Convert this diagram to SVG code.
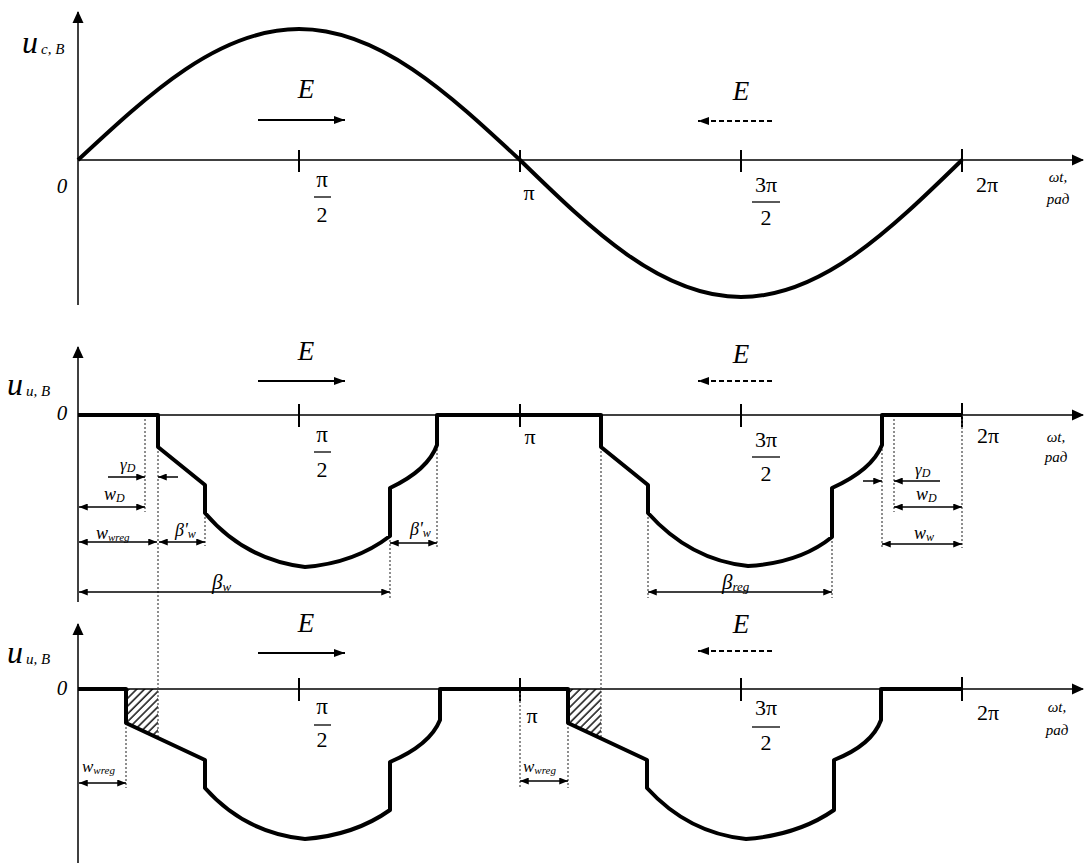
<svg xmlns="http://www.w3.org/2000/svg" width="1084" height="863" viewBox="0 0 1084 863">
<style>
.ax{stroke:#000;stroke-width:1.5;fill:none}
.tk{stroke:#000;stroke-width:2}
.wv{stroke:#000;stroke-width:4;fill:none;stroke-linejoin:round}
.dt{stroke:#444;stroke-width:1.2;stroke-dasharray:2 2;fill:none}
.dm{stroke:#000;stroke-width:1.5;fill:none}
.ea{stroke:#000;stroke-width:1.8;fill:none}
.ed{stroke:#000;stroke-width:1.8;fill:none;stroke-dasharray:5 3}
.t{font-family:"Liberation Serif","DejaVu Serif",serif;fill:#000}
.i{font-style:italic}
.fb{stroke:#000;stroke-width:1.3}
</style>
<defs>
<marker id="axh" viewBox="0 0 12 12" refX="11" refY="6" markerWidth="12" markerHeight="12" markerUnits="userSpaceOnUse" orient="auto"><path d="M0,0.5 L12,6 L0,11.5 z" fill="#000"/></marker>
<marker id="dh" viewBox="0 0 10 8" refX="10" refY="4" markerWidth="9" markerHeight="7" markerUnits="userSpaceOnUse" orient="auto-start-reverse"><path d="M0,0 L10,4 L0,8 z" fill="#000"/></marker>
<marker id="eh" viewBox="0 0 11 8" refX="11" refY="4" markerWidth="11" markerHeight="8" markerUnits="userSpaceOnUse" orient="auto"><path d="M0,0 L11,4 L0,8 z" fill="#000"/></marker>
<pattern id="hatch" patternUnits="userSpaceOnUse" width="5.5" height="5.5" patternTransform="rotate(45)"><line x1="1" y1="0" x2="1" y2="5.5" stroke="#000" stroke-width="1.4"/></pattern>
</defs>

<g id="axes">
<line class="ax" x1="78" y1="305" x2="78" y2="12" marker-end="url(#axh)"/>
<line class="ax" x1="78" y1="160" x2="1083" y2="160" marker-end="url(#axh)"/>
<line class="ax" x1="78" y1="602" x2="78" y2="347" marker-end="url(#axh)"/>
<line class="ax" x1="78" y1="415" x2="1083" y2="415" marker-end="url(#axh)"/>
<line class="ax" x1="78" y1="863" x2="78" y2="624" marker-end="url(#axh)"/>
<line class="ax" x1="78" y1="689" x2="1083" y2="689" marker-end="url(#axh)"/>
</g>

<g id="ticks">
<path class="tk" d="M299,150 V172 M520,150 V172 M741,150 V172 M962,149 V172"/>
<path class="tk" d="M299,404 V427 M520,404 V427 M741,404 V427 M962,403 V427"/>
<path class="tk" d="M299,678 V701 M520,678 V701 M741,678 V701 M962,677 V701"/>
</g>

<g id="hatching">
<polygon points="126,689 158,689 158,738 126,723" fill="url(#hatch)"/>
<polygon points="568,689 601,689 601,738 568,723" fill="url(#hatch)"/>
</g>

<g id="guides">
<path class="dt" d="M145,415 V512 M158,447 V738 M205,513 V546 M390,536 V598 M437,445 V548"/>
<path class="dt" d="M601,447 V738 M648,513 V598 M832,537 V598 M882,445 V548 M894,415 V512 M962,415 V548"/>
<path class="dt" d="M126,723 V788 M520,689 V788 M568,723 V788"/>
</g>

<g id="curves">
<path class="wv" id="sine" d="M78,160 C150.07,92.9 219.02,29 299,29 C378.98,29 447.93,92.9 520,160 C592.07,230.2 661.02,297 741,297 C820.98,297 889.93,230.2 962,160"/>
<path class="wv" id="mid-wave" d="M78,415 H158 V447 L205,485 V513 Q245,560 305,567 Q355,563 390,536 V488 Q428,470 437,445 V415 H601 V447 L648,485 V513 Q690,560 748,566 Q800,563 832,537 V488 Q872,470 882,445 V415 H962"/>
<path class="wv" id="bot-wave" d="M78,689 H126 V723 L205,760 V788 Q245,833 305,839 Q355,835 390,810 V762 Q430,745 440,720 V689 H568 V723 L647,760 V788 Q688,833 746,839 Q798,835 834,810 V760 Q872,745 881,720 V689 H962"/>
</g>

<g id="connectors">
<line class="ea" x1="258" y1="120" x2="345" y2="120" marker-end="url(#eh)"/>
<line class="ed" x1="772" y1="121" x2="698" y2="121" marker-end="url(#eh)"/>
<line class="ea" x1="258" y1="381" x2="345" y2="381" marker-end="url(#eh)"/>
<line class="ed" x1="772" y1="381" x2="698" y2="381" marker-end="url(#eh)"/>
<line class="ea" x1="258" y1="653" x2="345" y2="653" marker-end="url(#eh)"/>
<line class="ed" x1="772" y1="651" x2="698" y2="651" marker-end="url(#eh)"/>

<line class="dm" x1="108" y1="477" x2="145" y2="477" marker-end="url(#dh)"/>
<line class="dm" x1="178" y1="477" x2="158" y2="477" marker-end="url(#dh)"/>
<line class="dm" x1="79" y1="507" x2="145" y2="507" marker-start="url(#dh)" marker-end="url(#dh)"/>
<line class="dm" x1="79" y1="542" x2="157" y2="542" marker-start="url(#dh)" marker-end="url(#dh)"/>
<line class="dm" x1="159" y1="542" x2="205" y2="542" marker-start="url(#dh)" marker-end="url(#dh)"/>
<line class="dm" x1="390" y1="543" x2="437" y2="543" marker-start="url(#dh)" marker-end="url(#dh)"/>
<line class="dm" x1="79" y1="592" x2="390" y2="592" marker-start="url(#dh)" marker-end="url(#dh)"/>
<line class="dm" x1="648" y1="592" x2="832" y2="592" marker-start="url(#dh)" marker-end="url(#dh)"/>
<line class="dm" x1="863" y1="481" x2="882" y2="481" marker-end="url(#dh)"/>
<line class="dm" x1="940" y1="481" x2="894" y2="481" marker-end="url(#dh)"/>
<line class="dm" x1="894" y1="507" x2="962" y2="507" marker-start="url(#dh)" marker-end="url(#dh)"/>
<line class="dm" x1="882" y1="544" x2="962" y2="544" marker-start="url(#dh)" marker-end="url(#dh)"/>
<line class="dm" x1="79" y1="783" x2="126" y2="783" marker-start="url(#dh)" marker-end="url(#dh)"/>
<line class="dm" x1="520" y1="781" x2="568" y2="781" marker-start="url(#dh)" marker-end="url(#dh)"/>
</g>

<g id="labels-top" class="t">
<text x="22" y="53" class="i" font-size="32">u<tspan font-size="15" dx="3" dy="1">c, B</tspan></text>
<text x="62" y="193" class="i" font-size="21" text-anchor="middle">0</text>
<text x="306" y="98" class="i" font-size="27" text-anchor="middle">E</text>
<text x="741" y="100" class="i" font-size="27" text-anchor="middle">E</text>
<text x="322" y="187" font-size="23" text-anchor="middle">π</text>
<line class="fb" x1="314" y1="197" x2="331" y2="197"/>
<text x="322" y="222" font-size="22" text-anchor="middle">2</text>
<text x="529" y="200" font-size="22" text-anchor="middle">π</text>
<text x="766" y="192" font-size="22" text-anchor="middle">3π</text>
<line class="fb" x1="752" y1="202" x2="780" y2="202"/>
<text x="766" y="225" font-size="22" text-anchor="middle">2</text>
<text x="987" y="192" font-size="22" text-anchor="middle">2π</text>
<text x="1058" y="182" class="i" font-size="15" text-anchor="middle">ωt,</text>
<text x="1058" y="204" class="i" font-size="15" text-anchor="middle">рад</text>
</g>

<g id="labels-mid" class="t">
<text x="7" y="395" class="i" font-size="32">u<tspan font-size="15" dx="3" dy="1">u, B</tspan></text>
<text x="62" y="420" class="i" font-size="21" text-anchor="middle">0</text>
<text x="306" y="360" class="i" font-size="27" text-anchor="middle">E</text>
<text x="741" y="363" class="i" font-size="27" text-anchor="middle">E</text>
<text x="322" y="442" font-size="23" text-anchor="middle">π</text>
<line class="fb" x1="314" y1="452" x2="331" y2="452"/>
<text x="322" y="477" font-size="22" text-anchor="middle">2</text>
<text x="530" y="444" font-size="22" text-anchor="middle">π</text>
<text x="766" y="447" font-size="22" text-anchor="middle">3π</text>
<line class="fb" x1="752" y1="457" x2="780" y2="457"/>
<text x="766" y="481" font-size="22" text-anchor="middle">2</text>
<text x="988" y="443" font-size="22" text-anchor="middle">2π</text>
<text x="1056" y="442" class="i" font-size="15" text-anchor="middle">ωt,</text>
<text x="1056" y="462" class="i" font-size="15" text-anchor="middle">рад</text>

<text x="120" y="470" class="i" font-size="17">γ<tspan font-size="12" dy="2">D</tspan></text>
<text x="104" y="500" class="i" font-size="18">w<tspan font-size="12" dy="2">D</tspan></text>
<text x="96" y="539" class="i" font-size="18">w<tspan font-size="11" dy="2">wreg</tspan></text>
<text x="175" y="536" class="i" font-size="18">β'<tspan font-size="12" dy="2">w</tspan></text>
<text x="410" y="535" class="i" font-size="18">β'<tspan font-size="12" dy="2">w</tspan></text>
<text x="212" y="589" class="i" font-size="21">β<tspan font-size="13" dy="2">w</tspan></text>
<text x="722" y="589" class="i" font-size="21">β<tspan font-size="13" dy="2">reg</tspan></text>
<text x="915" y="475" class="i" font-size="17">γ<tspan font-size="12" dy="2">D</tspan></text>
<text x="916" y="500" class="i" font-size="18">w<tspan font-size="12" dy="2">D</tspan></text>
<text x="914" y="539" class="i" font-size="18">w<tspan font-size="12" dy="2">w</tspan></text>
</g>

<g id="labels-bot" class="t">
<text x="7" y="663" class="i" font-size="32">u<tspan font-size="15" dx="3" dy="1">u, B</tspan></text>
<text x="62" y="695" class="i" font-size="21" text-anchor="middle">0</text>
<text x="306" y="632" class="i" font-size="27" text-anchor="middle">E</text>
<text x="741" y="633" class="i" font-size="27" text-anchor="middle">E</text>
<text x="322" y="714" font-size="23" text-anchor="middle">π</text>
<line class="fb" x1="314" y1="725" x2="331" y2="725"/>
<text x="322" y="747" font-size="22" text-anchor="middle">2</text>
<text x="532" y="723" font-size="22" text-anchor="middle">π</text>
<text x="766" y="715" font-size="22" text-anchor="middle">3π</text>
<line class="fb" x1="752" y1="727" x2="780" y2="727"/>
<text x="766" y="750" font-size="22" text-anchor="middle">2</text>
<text x="988" y="720" font-size="22" text-anchor="middle">2π</text>
<text x="1057" y="712" class="i" font-size="15" text-anchor="middle">ωt,</text>
<text x="1057" y="735" class="i" font-size="15" text-anchor="middle">рад</text>
<text x="82" y="772" class="i" font-size="17">w<tspan font-size="11" dy="2">wreg</tspan></text>
<text x="523" y="772" class="i" font-size="17">w<tspan font-size="11" dy="2">wreg</tspan></text>
</g>
</svg>
